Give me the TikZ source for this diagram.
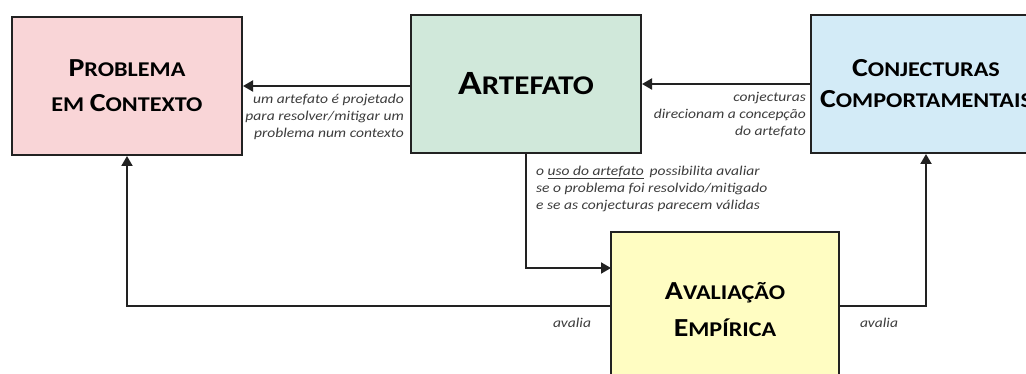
\documentclass[tikz,border=0pt]{standalone}
\usepackage{fontspec}
\setmainfont{Carlito}[FakeStretch=1.15]
\usetikzlibrary{arrows.meta}

\definecolor{pinkf}{HTML}{F9D5D7}
\definecolor{greenf}{HTML}{D0E8DA}
\definecolor{bluef}{HTML}{D3EBF7}
\definecolor{yellowf}{HTML}{FFFDC2}
\definecolor{edge}{HTML}{222222}
\definecolor{note}{HTML}{3C3C3C}

% fake small caps: large initial, smaller capitals
\newcommand\fs[2]{{\fontsize{#1}{\baselineskip}\selectfont #2}}

\tikzset{
  box/.style={draw=edge, line width=2pt, rectangle, align=center,
    minimum width=230pt, minimum height=138pt, inner sep=0pt},
  arr/.style={draw=edge, line width=2pt, -{Triangle[length=10pt,width=11pt]}},
  lbl/.style={text=note, font=\itshape\fontsize{13.5}{17}\selectfont, inner sep=0pt},
}

\begin{document}
\begin{tikzpicture}[x=1pt, y=-1pt]
  \useasboundingbox (0,0) rectangle (1026,374);
  \begin{scope}
    \clip (0,0) rectangle (1026,374);

    \node[box, fill=pinkf, font=\bfseries\fontsize{26}{35}\selectfont] (prob) at (127,86)
      {\fs{26}{P}\fs{21}{ROBLEMA}\\
       \fs{21}{EM }\fs{26}{C}\fs{21}{ONTEXTO}};
    \node[box, fill=greenf, font=\bfseries\fontsize{34}{40}\selectfont] (art) at (526,84)
      {\fs{34}{A}\fs{27}{RTEFATO}};
    \node[box, fill=bluef, font=\bfseries\fontsize{26}{31}\selectfont] (conj) at (926,84)
      {\fs{26}{C}\fs{21}{ONJECTURAS}\\
       \fs{26}{C}\fs{21}{OMPORTAMENTAIS}};
    \node[box, fill=yellowf, minimum width=228pt, minimum height=156pt,
          font=\bfseries\fontsize{26}{37}\selectfont] (aval) at (725,310)
      {\fs{26}{A}\fs{21}{VALIAÇÃO}\\
       \fs{26}{E}\fs{21}{MPÍRICA}};

    \coordinate (inA) at (611,268);
    \coordinate (outL) at (611,306);
    \coordinate (outR) at (839,306);

    \draw[arr] (art.west |- prob.east) -- (prob.east);
    \draw[arr] (conj.west) -- (art.east);
    \draw[arr] (art.south) |- (inA);
    \draw[arr] (outL) -| (prob.south);
    \draw[arr] (outR) -| (conj.south);

    \node[lbl, anchor=north east, align=right] (l1) at (404,94)
      {um artefato é projetado\\para resolver/mitigar um\\problema num contexto};
    \node[lbl, anchor=north east, align=right] (l2) at (806,92)
      {conjecturas\\direcionam a concepção\\do artefato};
    \node[lbl, anchor=north west, align=left] (l3) at (536,166)
      {o \underline{uso do artefato}\, possibilita avaliar\\se o problema foi resolvido/mitigado\\e se as conjecturas parecem válidas};
    \node[lbl] (l4) at (572,323) {avalia};
    \node[lbl] (l5) at (879,323) {avalia};
  \end{scope}
\end{tikzpicture}
\end{document}
